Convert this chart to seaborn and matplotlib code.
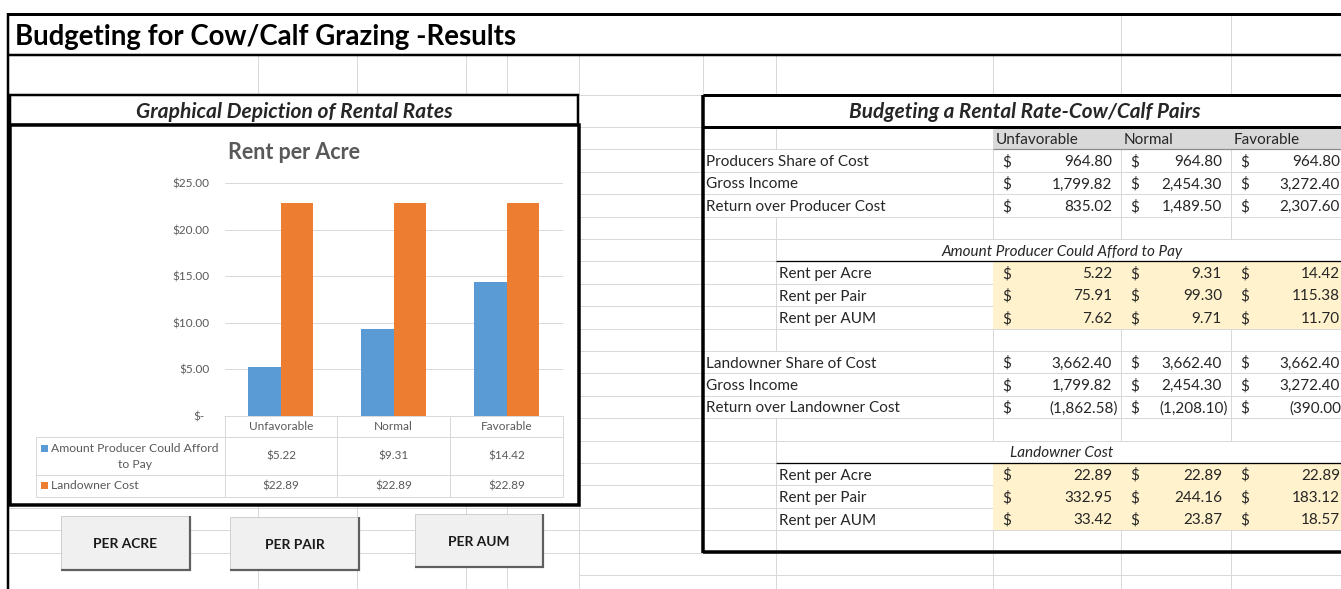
import matplotlib
matplotlib.use("Agg")
import matplotlib.pyplot as plt
import matplotlib.transforms as mtransforms
from matplotlib.patches import Rectangle
import seaborn as sns
import pandas as pd

sns.set_theme(style="white")
plt.rcParams['font.family'] = ['Lato', 'DejaVu Sans']

# ---------------- data ----------------
scenarios = ["Unfavorable", "Normal", "Favorable"]
series_names = ["Amount Producer Could Afford to Pay", "Landowner Cost"]
producer_rent_acre = [5.22, 9.31, 14.42]
landowner_rent_acre = [22.89, 22.89, 22.89]
y_ticks = [0, 5, 10, 15, 20, 25]
y_tick_labels = ["$-", "$5.00", "$10.00", "$15.00", "$20.00", "$25.00"]

producer_labels = ["Producers Share of Cost", "Gross Income", "Return over Producer Cost"]
producer_share = [964.80, 964.80, 964.80]
producer_gross = [1799.82, 2454.30, 3272.40]
producer_return = [835.02, 1489.50, 2307.60]

rent_labels = ["Rent per Acre", "Rent per Pair", "Rent per AUM"]
afford_acre = [5.22, 9.31, 14.42]
afford_pair = [75.91, 99.30, 115.38]
afford_aum = [7.62, 9.71, 11.70]

landowner_labels = ["Landowner Share of Cost", "Gross Income", "Return over Landowner Cost"]
landowner_share = [3662.40, 3662.40, 3662.40]
landowner_gross = [1799.82, 2454.30, 3272.40]
landowner_return = [-1862.58, -1208.10, -390.00]

cost_acre = [22.89, 22.89, 22.89]
cost_pair = [332.95, 244.16, 183.12]
cost_aum = [33.42, 23.87, 18.57]

button_labels = ["PER ACRE", "PER PAIR", "PER AUM"]

sheet_title = "Budgeting for Cow/Calf Grazing -Results"
left_box_title = "Graphical Depiction of Rental Rates"
right_box_title = "Budgeting a Rental Rate-Cow/Calf Pairs"
chart_title = "Rent per Acre"

# ---------------- styling ----------------
W, H = 1341, 589
BLUE, ORANGE = "#5b9bd5", "#ed7d31"
GRID = "#d9d9d9"
CHART_TXT = "#595959"
YELLOW = "#fff2cc"
HEAD_GRAY = "#d9d9d9"
PX = 0.72  # one pixel in points at dpi=100
DY = 1.5   # small downward nudge for centred text

fig = plt.figure(figsize=(W / 100, H / 100), dpi=100)
fig.patch.set_facecolor("white")
bg = fig.add_axes([0, 0, 1, 1])
bg.set_xlim(0, W)
bg.set_ylim(H, 0)
bg.axis("off")
renderer = fig.canvas.get_renderer()


def hl(y, x0, x1, c=GRID, w=1, z=1):
    bg.plot([x0, x1], [y, y], color=c, lw=w * PX, solid_capstyle="butt", zorder=z)


def vl(x, y0, y1, c=GRID, w=1, z=1):
    bg.plot([x, x], [y0, y1], color=c, lw=w * PX, solid_capstyle="butt", zorder=z)


def rect(x0, y0, x1, y1, fc="none", ec="none", w=0, z=2):
    bg.add_patch(Rectangle((x0, y0), x1 - x0, y1 - y0, facecolor=fc,
                           edgecolor=ec, lw=w * PX, zorder=z))


def fit_size(s, target, **kw):
    t = bg.text(0, 0, s, fontsize=10, **kw)
    w = t.get_window_extent(renderer).width
    t.remove()
    return 10 * target / w


def txt(x, y, s, size, ha="left", **kw):
    return bg.text(x, y + DY, s, fontsize=size, ha=ha, va="center", zorder=6, **kw)


def acct(v):
    return "({:,.2f})".format(-v) if v < 0 else "{:,.2f}".format(v)


# ---------------- sheet rows / columns ----------------
row_top, row_h = 127.0, 22.4
rb = [row_top + row_h * k for k in range(21)]           # row boundaries
rc = [row_top + row_h * (k + 0.5) for k in range(20)]   # row centres
left_cols = [258, 357, 466, 507, 579]
right_cols = [703, 776, 993, 1121, 1231]
val_cols = [(993, 1121), (1121, 1231), (1231, 1349)]

# background gridlines
for x in [1121, 1231]:
    vl(x, 14, 55, z=0)
for x in left_cols + right_cols:
    vl(x, 55, 95, z=0)
hl(95, 8, W, z=0)
for y in [95] + rb:
    hl(y, 579, 703, z=0)
for y in rb[17:20]:
    hl(y, 8, 703, z=0)
for x in left_cols:
    vl(x, 505, H, z=0)
hl(rb[20], 703, W, z=0)
hl(rb[19], 703, W, z=0)
for x in right_cols[1:]:
    vl(x, 553, H, z=0)

# sheet title row
hl(14, 8, W, c="black", w=3, z=5)
hl(55, 8, W, c="black", w=2.5, z=5)
vl(8, 13, H, c="black", w=2.5, z=5)
fs_title = fit_size(sheet_title, 502, fontweight="bold")
txt(15, 36, sheet_title, fs_title, fontweight="bold", color="black")

# ---------------- left box ----------------
rect(10, 95, 578, 125, fc="white", ec="black", w=2.5, z=3)
fs_box = fit_size(left_box_title, 315, fontweight="bold", fontstyle="italic")
txt(294, 111, left_box_title, fs_box, ha="center", fontweight="bold", fontstyle="italic")
rect(10, 125, 579, 505, fc="white", ec="black", w=3.5, z=3)

# chart title
fs_ct = fit_size(chart_title, 133, fontweight="bold")
txt(294.5, 151, chart_title, fs_ct, ha="center", fontweight="bold", color=CHART_TXT)

# bar chart axes
ax = fig.add_axes([224.5 / W, 1 - 416 / H, (563 - 224.5) / W, (416 - 183.3) / H])
ax.set_zorder(4)
ax.patch.set_alpha(0)
df = pd.DataFrame({
    "Scenario": scenarios * 2,
    "Series": [series_names[0]] * 3 + [series_names[1]] * 3,
    "Value": producer_rent_acre + landowner_rent_acre,
})
sns.barplot(data=df, x="Scenario", y="Value", hue="Series", order=scenarios,
            hue_order=series_names, palette=[BLUE, ORANGE], width=0.576,
            saturation=1, linewidth=0, legend=False, ax=ax, zorder=3)
ax.set_xlim(-0.5, 2.5)
ax.set_ylim(0, 25)
ax.set_yticks(y_ticks)
fs_tick = fit_size("$25.00", 37)
ax.set_yticklabels(y_tick_labels, fontsize=fs_tick, color=CHART_TXT)
ax.set_xticks([])
ax.set_xlabel("")
ax.set_ylabel("")
ax.grid(axis="y", color=GRID, lw=PX)
ax.grid(axis="x", visible=False)
ax.set_axisbelow(True)
for s in ax.spines.values():
    s.set_visible(False)
ax.tick_params(axis="y", length=0, pad=11)
# accounting-format zero label sits a little further left
zero_lab = ax.get_yticklabels()[0]
zero_lab.set_transform(zero_lab.get_transform() +
                       mtransforms.ScaledTranslation(-5 / 100, 0, fig.dpi_scale_trans))

# data table under the chart
tr = mtransforms.blended_transform_factory(ax.transData, bg.transData)
t_top, t_cat, t_r1, t_r2 = 416, 437, 475, 497
hl(t_top, 224.5, 563, z=5)
for y in [t_cat, t_r1, t_r2]:
    hl(y, 36, 563, z=5)
vl(36, t_cat, t_r2, z=5)
for k in range(4):
    bg.plot([k - 0.5, k - 0.5], [t_top, t_r2], color=GRID, lw=PX, transform=tr, zorder=5)
for i, (cat, a, b) in enumerate(zip(scenarios, producer_rent_acre, landowner_rent_acre)):
    bg.text(i, 427, cat, fontsize=fs_tick, color=CHART_TXT, ha="center", va="center", transform=tr, zorder=6)
    bg.text(i, 456, "${:,.2f}".format(a), fontsize=fs_tick, color=CHART_TXT, ha="center", va="center", transform=tr, zorder=6)
    bg.text(i, 486, "${:,.2f}".format(b), fontsize=fs_tick, color=CHART_TXT, ha="center", va="center", transform=tr, zorder=6)
fs_leg = fit_size("Amount Producer Could Afford", 168)
rect(41, 445, 48, 452, fc=BLUE, z=6)
txt(51, 447, "Amount Producer Could Afford", fs_leg, color=CHART_TXT)
txt(135, 463, "to Pay", fs_leg, ha="center", color=CHART_TXT)
rect(41, 482, 48, 489, fc=ORANGE, z=6)
txt(51, 484, series_names[1], fs_leg, color=CHART_TXT)

# buttons
btn_boxes = [(61, 516, 190, 570), (230, 517, 359, 570), (415, 514, 543, 567)]
fs_btn = fit_size(button_labels[0], 64, fontweight="bold")
for lab, (x0, y0, x1, y1) in zip(button_labels, btn_boxes):
    rect(x0, y0, x1, y1, fc="#f0f0f0", ec="#cfcfcf", w=1, z=3)
    hl(y1, x0, x1 + 1, c="#5f5f5f", w=2.2, z=4)
    vl(x1, y0, y1 + 1, c="#5f5f5f", w=2.2, z=4)
    txt((x0 + x1) / 2, (y0 + y1) / 2, lab, fs_btn, ha="center", fontweight="bold", color="#1a1a1a")

# ---------------- right box ----------------
rect(703, 95, W + 20, rb[19] - 0.5, fc="white", ec="none", z=1)
fs_tab = fit_size("Return over Producer Cost", 181)

# light internal gridlines
for k in range(1, 19):
    hl(rb[k], 703, W, z=2)
# vertical gridlines per row
for k in [0, 4, 5, 6, 7, 8, 9, 13, 14, 15, 16, 17, 18]:
    vl(776, rb[k], rb[k + 1], z=2)
for k in [1, 2, 3, 4, 9, 10, 11, 12, 13, 18]:
    for x in [993, 1121, 1231]:
        vl(x, rb[k], rb[k + 1], z=2)
# fills
rect(993, rb[0] + 1, W + 5, rb[1], fc=HEAD_GRAY, z=3)
hl(rb[1], 993, W, c="#8c8c8c", w=1.2, z=4)
rect(993, rb[6] + 0.5, W + 5, rb[9], fc=YELLOW, z=3)
rect(993, rb[15] + 0.5, W + 5, rb[18], fc=YELLOW, z=3)
# underlines of merged section titles
hl(rb[6], 776, W, c="black", w=1.3, z=4)
hl(rb[15], 776, W, c="black", w=1.3, z=4)
# box outline
hl(95, 703, W, c="black", w=3, z=5)
hl(rb[0], 703, W, c="black", w=3, z=5)
hl(rb[19] - 1, 703, W, c="black", w=3.5, z=5)
vl(703, 95, rb[19] + 0.5, c="black", w=3.5, z=5)

fs_rt = fit_size(right_box_title, 352, fontweight="bold", fontstyle="italic")
txt(1025, 111, right_box_title, fs_rt, ha="center", fontweight="bold", fontstyle="italic")

for (c0, c1), s in zip(val_cols, scenarios):
    txt(c0 + 3, rc[0], s, fs_tab)


def value_row(k, label, vals, label_x):
    txt(label_x, rc[k], label, fs_tab)
    for (c0, c1), v in zip(val_cols, vals):
        txt(c0 + 9, rc[k], "$", fs_tab)
        if v < 0:
            txt(c1 - 3, rc[k], acct(v), fs_tab, ha="right")
        else:
            txt(c1 - 9, rc[k], acct(v), fs_tab, ha="right")


for k, lab, vals in zip([1, 2, 3], producer_labels, [producer_share, producer_gross, producer_return]):
    value_row(k, lab, vals, 706)
txt(1062, rc[5], "Amount Producer Could Afford to Pay", fs_tab, ha="center", fontstyle="italic")
for k, lab, vals in zip([6, 7, 8], rent_labels, [afford_acre, afford_pair, afford_aum]):
    value_row(k, lab, vals, 779)
for k, lab, vals in zip([10, 11, 12], landowner_labels, [landowner_share, landowner_gross, landowner_return]):
    value_row(k, lab, vals, 706)
txt(1062, rc[14], series_names[1], fs_tab, ha="center", fontstyle="italic")
for k, lab, vals in zip([15, 16, 17], rent_labels, [cost_acre, cost_pair, cost_aum]):
    value_row(k, lab, vals, 779)

fig.savefig("out.png", dpi=100, facecolor="white")
